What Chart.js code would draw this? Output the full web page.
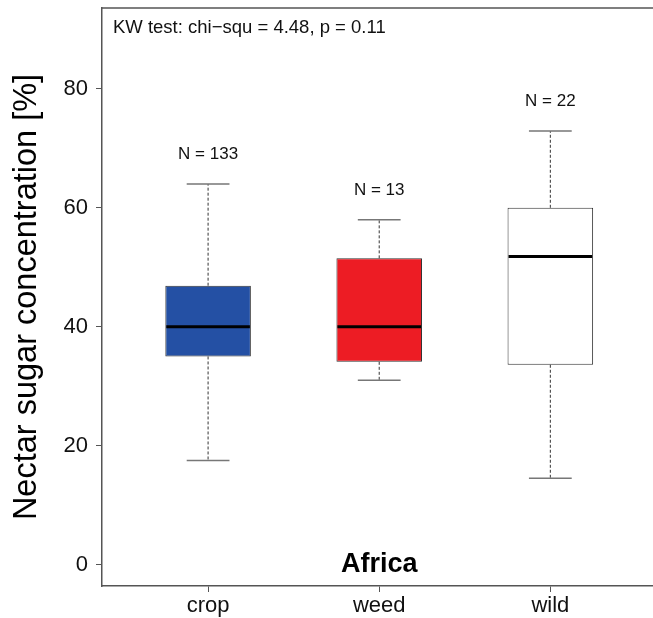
<!DOCTYPE html>
<html>
<head>
<meta charset="utf-8">
<script src="https://cdn.jsdelivr.net/npm/chart.js@4"></script>
<style>
  html, body { margin: 0; padding: 0; background: #fff; overflow: hidden; }
</style>
</head>
<body>
<canvas id="myChart" width="653" height="618"></canvas>
<script>
// box plot data
var categories = ["crop", "weed", "wild"];
var counts = [133, 13, 22];
var whiskerLow = [17.5, 31.0, 14.5];
var q1 = [35.0, 34.1, 33.6];
var median = [40.0, 40.0, 51.8];
var q3 = [46.9, 51.5, 60.0];
var whiskerHigh = [64.0, 58.0, 72.9];
var boxColors = ["#2450a4", "#ed1c24", "#ffffff"];
var yTicks = [0, 20, 40, 60, 80];
var statText = "KW test: chi\u2212squ = 4.48, p = 0.11";
var panelTitle = "Africa";

var FONT = "'Liberation Sans', Arial, sans-serif";

// medians, whiskers, N labels and texts
var boxExtras = {
  id: "boxExtras",
  afterDatasetsDraw: function (chart) {
    var c = chart.ctx, x = chart.scales.x, y = chart.scales.y, a = chart.chartArea;
    var boxHalf = 0.25, capHalf = 0.125;
    c.save();
    for (var i = 0; i < categories.length; i++) {
      var pos = i + 1;
      var xc = x.getPixelForValue(pos);
      // whiskers
      c.strokeStyle = "#333";
      c.lineWidth = 1;
      c.setLineDash([3, 2]);
      c.beginPath();
      c.moveTo(xc, y.getPixelForValue(q3[i]));
      c.lineTo(xc, y.getPixelForValue(whiskerHigh[i]));
      c.moveTo(xc, y.getPixelForValue(q1[i]));
      c.lineTo(xc, y.getPixelForValue(whiskerLow[i]));
      c.stroke();
      c.setLineDash([]);
      // caps
      c.strokeStyle = "#777";
      c.lineWidth = 1.5;
      c.beginPath();
      [whiskerHigh[i], whiskerLow[i]].forEach(function (v) {
        var py = y.getPixelForValue(v);
        c.moveTo(x.getPixelForValue(pos - capHalf), py);
        c.lineTo(x.getPixelForValue(pos + capHalf), py);
      });
      c.stroke();
      // median
      c.strokeStyle = "#000";
      c.lineWidth = 3;
      c.beginPath();
      var my = y.getPixelForValue(median[i]);
      c.moveTo(x.getPixelForValue(pos - boxHalf) + 1, my);
      c.lineTo(x.getPixelForValue(pos + boxHalf) - 1, my);
      c.stroke();
      // N label
      c.fillStyle = "#111";
      c.font = "17px " + FONT;
      c.textAlign = "center";
      c.textBaseline = "middle";
      c.fillText("N = " + counts[i], xc, y.getPixelForValue(whiskerHigh[i] + 5));
    }
    // top border
    c.strokeStyle = "#555";
    c.lineWidth = 1.5;
    c.beginPath();
    c.moveTo(a.left, a.top);
    c.lineTo(a.right, a.top);
    c.stroke();
    // test result and panel title
    c.fillStyle = "#111";
    c.font = "18.5px " + FONT;
    c.textAlign = "left";
    c.textBaseline = "middle";
    c.fillText(statText, a.left + 11, a.top + 20);
    c.fillStyle = "#000";
    c.font = "bold 27px " + FONT;
    c.textAlign = "center";
    c.fillText(panelTitle, x.getPixelForValue(2), y.getPixelForValue(0));
    c.restore();
  }
};

var ctx = document.getElementById("myChart");
var chart = new Chart(ctx, {
  type: "bar",
  data: {
    datasets: [
      {
        data: categories.map(function (cat, i) {
          return { x: i + 1, y: [q1[i], q3[i]] };
        }),
        backgroundColor: boxColors,
        borderColor: "#333",
        borderWidth: 1,
        borderSkipped: false,
        barPercentage: 0.5,
        categoryPercentage: 1,
      },
    ],
  },
  options: {
    responsive: false,
    animation: false,
    layout: { padding: { top: 8, right: 0, left: 0, bottom: 0 } },
    plugins: { legend: { display: false }, tooltip: { enabled: false } },
    scales: {
      x: {
        type: "linear",
        offset: false,
        min: 0.38,
        max: 3.6,
        afterBuildTicks: function (s) {
          s.ticks = categories.map(function (c, i) { return { value: i + 1 }; });
        },
        afterFit: function (s) {
          s.height = 32;
          s.paddingLeft = 0;
          s.paddingRight = 0;
        },
        ticks: {
          callback: function (v) { return categories[v - 1]; },
          font: { size: 22, family: FONT },
          color: "#111",
          padding: 1,
          maxRotation: 0,
        },
        grid: { offset: false, drawOnChartArea: false, drawTicks: true, tickLength: 6, tickColor: "#555" },
        border: { color: "#555", width: 1.5 },
      },
      y: {
        min: -3.6,
        max: 93.6,
        afterBuildTicks: function (s) {
          s.ticks = yTicks.map(function (v) { return { value: v }; });
        },
        afterFit: function (s) {
          s.width = 102;
          s.paddingTop = 0;
          s.paddingBottom = 0;
        },
        ticks: {
          font: { size: 22, family: FONT },
          color: "#111",
          padding: 8,
        },
        grid: { drawOnChartArea: false, drawTicks: true, tickLength: 6, tickColor: "#555" },
        border: { color: "#555", width: 1.5 },
        title: {
          display: true,
          text: "Nectar sugar concentration [%]",
          font: { size: 32.5, family: FONT, lineHeight: 1.2 },
          color: "#000",
          padding: { top: 8, bottom: 0 },
        },
      },
    },
  },
  plugins: [boxExtras],
});
</script>
</body>
</html>
